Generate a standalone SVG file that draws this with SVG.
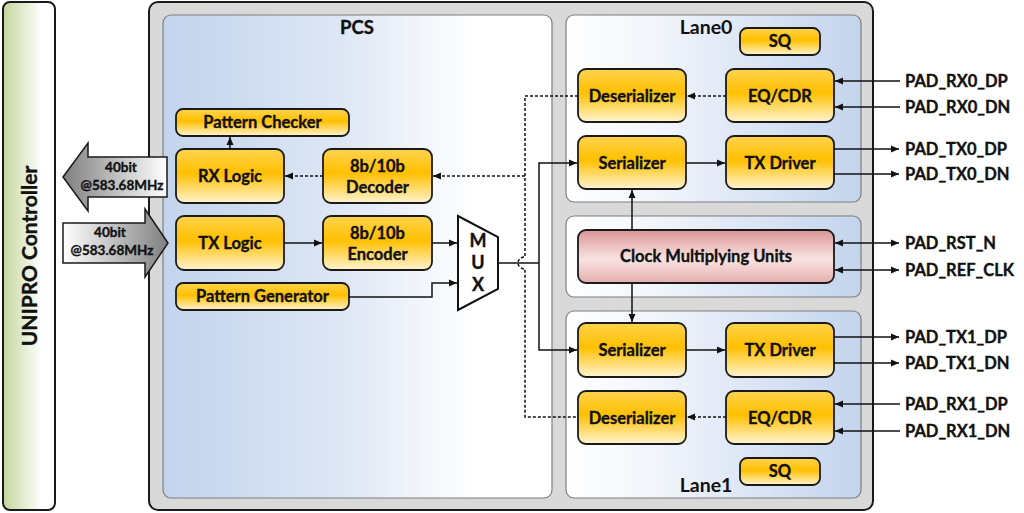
<svg xmlns="http://www.w3.org/2000/svg" width="1024" height="513" viewBox="0 0 1024 513">
<defs>
<linearGradient id="gGreen" x1="0" y1="0" x2="1" y2="0"><stop offset="0" stop-color="#c3d69b"/><stop offset="0.75" stop-color="#ffffff"/><stop offset="1" stop-color="#ffffff"/></linearGradient>
<linearGradient id="gPcs" x1="0" y1="0" x2="1" y2="0"><stop offset="0" stop-color="#c3d4ed"/><stop offset="0.45" stop-color="#dde6f4"/><stop offset="0.8" stop-color="#ffffff"/><stop offset="1" stop-color="#ffffff"/></linearGradient>
<linearGradient id="gLane" x1="0" y1="0" x2="1" y2="0"><stop offset="0" stop-color="#ffffff"/><stop offset="0.3" stop-color="#f2f5fb"/><stop offset="1" stop-color="#c3d4ed"/></linearGradient>
<linearGradient id="gYel" x1="0" y1="0" x2="0" y2="1"><stop offset="0" stop-color="#ffd34f"/><stop offset="0.45" stop-color="#ffc000"/><stop offset="1" stop-color="#fff4d2"/></linearGradient>
<linearGradient id="gRed" x1="0" y1="0" x2="0" y2="1"><stop offset="0" stop-color="#d99594"/><stop offset="0.55" stop-color="#f9e4e3"/><stop offset="1" stop-color="#e4aead"/></linearGradient>
<linearGradient id="gArrL" x1="0" y1="0" x2="1" y2="0"><stop offset="0" stop-color="#7f7f7f"/><stop offset="1" stop-color="#ffffff"/></linearGradient>
<linearGradient id="gArrR" x1="0" y1="0" x2="1" y2="0"><stop offset="0" stop-color="#ffffff"/><stop offset="1" stop-color="#7f7f7f"/></linearGradient>
<marker id="ah" markerUnits="userSpaceOnUse" markerWidth="9" markerHeight="8" refX="8" refY="4" orient="auto-start-reverse"><path d="M0,0.5 L8,4 L0,7.5 Z" fill="#111"/></marker>
<style>
.t{font-family:Lato,"Liberation Sans",sans-serif;font-weight:700;fill:#111;stroke:#111;stroke-width:0.35;text-anchor:middle}
.b{font-size:16.5px}
.pad{font-family:Lato,"Liberation Sans",sans-serif;font-weight:700;font-size:16.5px;fill:#111;stroke:#111;stroke-width:0.35}
.yb{fill:url(#gYel);stroke:#1a1a1a;stroke-width:1.8}
.ln{fill:none;stroke:#111;stroke-width:1.5}
.dl{fill:none;stroke:#111;stroke-width:1.5;stroke-dasharray:3 2}
.ar{marker-end:url(#ah)}
</style>
</defs>

<g id="unipro">
<rect x="3" y="2" width="52" height="508" rx="7" fill="url(#gGreen)" stroke="#1a1a1a" stroke-width="2"/>
<text class="t" transform="translate(37,256) rotate(-90)" font-size="21">UNIPRO Controller</text>
</g>

<g id="outer">
<rect x="149" y="2" width="724" height="508" rx="9" fill="#d9d9d9" stroke="#1a1a1a" stroke-width="2"/>
</g>

<g id="pcs">
<rect x="163" y="15" width="389" height="483" rx="8" fill="url(#gPcs)" stroke="#7f7f7f" stroke-width="1.2"/>
<text class="t" x="357" y="34" font-size="18.5">PCS</text>
</g>

<g id="lane0">
<rect x="566" y="15" width="295" height="187" rx="8" fill="url(#gLane)" stroke="#7f7f7f" stroke-width="1.2"/>
<text x="706" y="34" font-family="Lato,'Liberation Sans',sans-serif" font-size="19.5" font-weight="700" fill="#111" text-anchor="middle">Lane0</text>
</g>

<g id="clkregion">
<rect x="566" y="216" width="295" height="81" rx="8" fill="url(#gLane)" stroke="#7f7f7f" stroke-width="1.2"/>
</g>

<g id="lane1">
<rect x="566" y="311" width="295" height="187" rx="8" fill="url(#gLane)" stroke="#7f7f7f" stroke-width="1.2"/>
<text x="706" y="492" font-family="Lato,'Liberation Sans',sans-serif" font-size="19.5" font-weight="700" fill="#111" text-anchor="middle">Lane1</text>
</g>

<g id="patchk"><rect class="yb" x="176" y="109" width="173" height="27" rx="7"/><text class="t b" x="262.5" y="128">Pattern Checker</text></g>
<g id="rxlogic"><rect class="yb" x="176" y="149" width="108" height="54" rx="8"/><text class="t b" x="230" y="182">RX Logic</text></g>
<g id="txlogic"><rect class="yb" x="176" y="216" width="108" height="54" rx="8"/><text class="t b" x="230" y="249">TX Logic</text></g>
<g id="patgen"><rect class="yb" x="176" y="283" width="173" height="27" rx="7"/><text class="t b" x="262.5" y="302">Pattern Generator</text></g>
<g id="decoder"><rect class="yb" x="323" y="149" width="109" height="54" rx="8"/><text class="t b" x="377.5" y="172">8b/10b</text><text class="t b" x="377.5" y="193">Decoder</text></g>
<g id="encoder"><rect class="yb" x="323" y="216" width="109" height="54" rx="8"/><text class="t b" x="377.5" y="239">8b/10b</text><text class="t b" x="377.5" y="260">Encoder</text></g>
<g id="mux"><path d="M458,216 L498,237 L498,289 L458,310 Z" fill="#ffffff" stroke="#111" stroke-width="2"/><text class="t" x="478" y="247" font-size="18">M</text><text class="t" x="478" y="269" font-size="18">U</text><text class="t" x="478" y="291" font-size="18">X</text></g>

<g id="deser0"><rect class="yb" x="578" y="69" width="108" height="53" rx="8"/><text class="t b" x="632" y="102">Deserializer</text></g>
<g id="eqcdr0"><rect class="yb" x="726" y="69" width="108" height="53" rx="8"/><text class="t b" x="780" y="102">EQ/CDR</text></g>
<g id="ser0"><rect class="yb" x="578" y="136" width="108" height="53" rx="8"/><text class="t b" x="632" y="169">Serializer</text></g>
<g id="txd0"><rect class="yb" x="726" y="136" width="108" height="53" rx="8"/><text class="t b" x="780" y="169">TX Driver</text></g>
<g id="sq0"><rect class="yb" x="740" y="28" width="80" height="27" rx="7"/><text class="t b" x="780" y="47">SQ</text></g>

<g id="cmu"><rect x="578" y="230" width="256" height="53" rx="8" fill="url(#gRed)" stroke="#1a1a1a" stroke-width="1.8"/><text class="t b" x="706" y="262">Clock Multiplying Units</text></g>

<g id="ser1"><rect class="yb" x="578" y="323" width="108" height="54" rx="8"/><text class="t b" x="632" y="356">Serializer</text></g>
<g id="txd1"><rect class="yb" x="726" y="323" width="108" height="54" rx="8"/><text class="t b" x="780" y="356">TX Driver</text></g>
<g id="deser1"><rect class="yb" x="578" y="391" width="108" height="53" rx="8"/><text class="t b" x="632" y="424">Deserializer</text></g>
<g id="eqcdr1"><rect class="yb" x="726" y="391" width="108" height="53" rx="8"/><text class="t b" x="780" y="424">EQ/CDR</text></g>
<g id="sq1"><rect class="yb" x="740" y="458" width="80" height="27" rx="7"/><text class="t b" x="780" y="477">SQ</text></g>

<g id="busarrows">
<path d="M63,177 L88,143 L88,157 L167,157 L167,197 L88,197 L88,211 Z" fill="url(#gArrL)" stroke="#1a1a1a" stroke-width="1.5"/>
<text class="t" x="121" y="172" font-size="13.5">40bit</text>
<text class="t" x="122" y="190" font-size="13.5">@583.68MHz</text>
<path d="M63,223 L145,223 L145,209 L168,243 L145,277 L145,263 L63,263 Z" fill="url(#gArrR)" stroke="#1a1a1a" stroke-width="1.5"/>
<text class="t" x="110" y="237" font-size="13.5">40bit</text>
<text class="t" x="112" y="255" font-size="13.5">@583.68MHz</text>
</g>

<g id="connectors">
<path class="ln ar" d="M230,149 L230,137"/>
<path class="dl ar" d="M323,176 L285,176"/>
<path class="ln ar" d="M284,243 L322,243"/>
<path class="ln ar" d="M432,243 L457,243"/>
<path class="ln ar" d="M349,297 L432,297 L432,283 L457,283"/>
<path class="ln" d="M498,263 L539,263"/>
<path class="ln ar" d="M539,263 L539,163 L577,163"/>
<path class="ln ar" d="M539,263 L539,350 L577,350"/>
<path class="dl" d="M578,96 L525,96 L525,257 A7,6 0 0 0 525,269 L525,417 L578,417"/>
<path class="dl ar" d="M525,176 L433,176"/>
<path class="dl ar" d="M726,96 L687,96"/>
<path class="ln ar" d="M686,163 L725,163"/>
<path class="ln ar" d="M632,230 L632,190"/>
<path class="ln ar" d="M632,283 L632,322"/>
<path class="ln ar" d="M686,350 L725,350"/>
<path class="dl ar" d="M726,417 L687,417"/>
<path class="ln ar" d="M900,81 L835,81"/>
<path class="ln ar" d="M900,107 L835,107"/>
<path class="ln ar" d="M834,149 L899,149"/>
<path class="ln ar" d="M834,174 L899,174"/>
<path class="ln ar" d="M835,243 L899,243" marker-start="url(#ah)"/>
<path class="ln ar" d="M835,270 L899,270" marker-start="url(#ah)"/>
<path class="ln ar" d="M834,337 L899,337"/>
<path class="ln ar" d="M834,363 L899,363"/>
<path class="ln ar" d="M900,404 L835,404"/>
<path class="ln ar" d="M900,431 L835,431"/>
</g>

<g id="pads">
<text class="pad" x="905" y="87">PAD_RX0_DP</text>
<text class="pad" x="905" y="113">PAD_RX0_DN</text>
<text class="pad" x="905" y="155">PAD_TX0_DP</text>
<text class="pad" x="905" y="180">PAD_TX0_DN</text>
<text class="pad" x="905" y="249">PAD_RST_N</text>
<text class="pad" x="905" y="276">PAD_REF_CLK</text>
<text class="pad" x="905" y="343">PAD_TX1_DP</text>
<text class="pad" x="905" y="369">PAD_TX1_DN</text>
<text class="pad" x="905" y="410">PAD_RX1_DP</text>
<text class="pad" x="905" y="437">PAD_RX1_DN</text>
</g>
</svg>
